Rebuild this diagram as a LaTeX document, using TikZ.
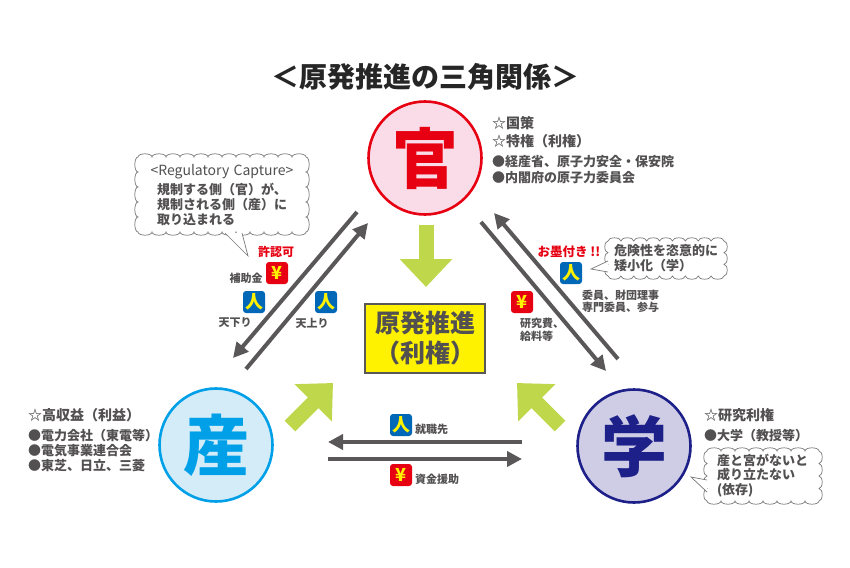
\documentclass[tikz,border=0pt]{standalone}
\usepackage{fontspec}
\setmainfont{Noto Sans CJK JP}
\usetikzlibrary{arrows.meta, positioning, calc}
\definecolor{kanRed}{RGB}{230, 0, 18}
\definecolor{kanFill}{RGB}{250, 220, 232}
\definecolor{sanBlue}{RGB}{0, 160, 233}
\definecolor{sanFill}{RGB}{211, 236, 248}
\definecolor{gakuNavy}{RGB}{29, 32, 136}
\definecolor{gakuFill}{RGB}{207, 205, 230}
\definecolor{flowGray}{RGB}{89, 87, 87}
\definecolor{bodyGray}{RGB}{82, 80, 80}
\definecolor{leafGreen}{RGB}{190, 215, 75}
\definecolor{iconBlue}{RGB}{0, 104, 183}
\newcommand{\px}[1]{\fontsize{#1}{#1}\selectfont}
% x, y, width, height, bumps across, bumps down
\newcommand{\cloudoutline}[6]{%
    \pgfmathsetmacro{\cloudW}{#3/#5/2}
    \pgfmathsetmacro{\cloudH}{#4/#6/2}
    \draw[cloudline] (#1,#2)
        \foreach \k in {1,...,#5} {arc[start angle=180, end angle=360, x radius=\cloudW, y radius=3.2]}
        \foreach \k in {1,...,#6} {arc[start angle=270, end angle=450, x radius=3.2, y radius=\cloudH]}
        \foreach \k in {1,...,#5} {arc[start angle=0, end angle=180, x radius=\cloudW, y radius=3.2]}
        \foreach \k in {1,...,#6} {arc[start angle=90, end angle=270, x radius=3.2, y radius=\cloudH]}
        -- cycle;}

\begin{document}
\begin{tikzpicture}[
        x=1pt, y=-1pt,
        actor/.style={circle, draw, line width=2.6pt, minimum size=113pt, inner sep=0pt,
                      font=\bfseries\px{66}},
        flow/.style={-{Triangle[length=15pt, width=15pt]}, line width=4pt, flowGray},
        push/.style={-{Triangle[length=28pt, width=51pt]}, line width=15pt, leafGreen},
        icon/.style={rounded corners=3pt, minimum size=22pt, inner sep=0pt, text=yellow,
                     font=\bfseries\px{18}},
        note/.style={text=bodyGray, font=\bfseries\px{13}, align=left, anchor=west, inner sep=0pt},
        small/.style={text=bodyGray, font=\bfseries\px{11}, align=left, inner sep=0pt},
        alert/.style={text=kanRed, font=\bfseries\px{12}, inner sep=0pt},
        cloudline/.style={draw=flowGray!80, fill=white, line width=0.7pt},
        bubble/.style={text=bodyGray, font=\bfseries\px{13}, align=left, inner sep=0pt},
        tail/.style={draw=flowGray!80, fill=white, line width=0.7pt}
    ]
        \useasboundingbox (0,0) rectangle (850,567);

        % Title
        \node[text=black!85, font=\bfseries\px{28}, inner sep=0pt] (title) at (425,77)
            {＜原発推進の三角関係＞};

        % Three actors
        \node[actor, draw=kanRed, fill=kanFill, text=kanRed] (kan) at (425,158) {官};
        \node[actor, draw=sanBlue, fill=sanFill, text=sanBlue] (san) at (216,445) {産};
        \node[actor, draw=gakuNavy, fill=gakuFill, text=gakuNavy] (gaku) at (634,446) {学};

        % Goal box
        \node[draw=flowGray, fill=yellow, line width=1.6pt, minimum width=120pt, minimum height=69pt,
              align=center, text=bodyGray, font=\bfseries\px{25}, inner sep=0pt] (goal) at (425,338.5)
            {原発推進\\[5pt]（利権）};

        % Green arrows into the goal
        \coordinate (kanFrom) at (426,225);
        \coordinate (kanTo) at (426,287);
        \coordinate (sanFrom) at (290,426);
        \coordinate (sanTo) at (333,383);
        \coordinate (gakuFrom) at (560,426);
        \coordinate (gakuTo) at (517,383);
        \draw[push] (kanFrom) -- (kanTo);
        \draw[push] (sanFrom) -- (sanTo);
        \draw[push] (gakuFrom) -- (gakuTo);

        % Flows kan - san
        \coordinate (ksA) at (357,212);
        \coordinate (ksB) at (233,358);
        \coordinate (skA) at (246,369);
        \coordinate (skB) at (368,223);
        \draw[flow] (ksA) -- (ksB);
        \draw[flow] (skA) -- (skB);

        % Flows kan - gaku
        \coordinate (kgA) at (481,222);
        \coordinate (kgB) at (606,371);
        \coordinate (gkA) at (618,359);
        \coordinate (gkB) at (494,213);
        \draw[flow] (kgA) -- (kgB);
        \draw[flow] (gkA) -- (gkB);

        % Flows san - gaku
        \coordinate (gsA) at (522,442);
        \coordinate (gsB) at (328,442);
        \coordinate (sgA) at (328,459);
        \coordinate (sgB) at (522,459);
        \draw[flow] (gsA) -- (gsB);
        \draw[flow] (sgA) -- (sgB);

        % Notes beside the actors
        \node[note] (kanNote) at (492,150) {
            \px{14}☆国策\\[4pt]
            \px{14}☆特権（利権）\\[7pt]
            ●経産省、原子力安全・保安院\\[3pt]
            ●内閣府の原子力委員会
        };
        \node[note] (sanNote) at (28,440) {
            \px{14}☆高収益（利益）\\[7pt]
            ●電力会社（東電等）\\[2pt]
            ●電気事業連合会\\[2pt]
            ●東芝、日立、三菱
        };
        \node[note] (gakuNote) at (704,425) {
            \px{14}☆研究利権\\[7pt]
            ●大学（教授等）
        };

        % Speech bubbles
        \cloudoutline{138}{157}{168}{75}{12}{5}
        \node[bubble, minimum width=168pt, minimum height=75pt, text width=168pt] (capture) at (222,195)
            {\makebox[\linewidth][c]{\px{14}\mdseries <Regulatory Capture>}\\[3pt]
             \hspace*{19pt}規制する側（官）が、\\[2pt]
             \hspace*{19pt}規制される側（産）に\\[2pt]
             \hspace*{19pt}取り込まれる};
        \coordinate (captureL) at (225,233);
        \coordinate (captureTip) at (248,256);
        \coordinate (captureR) at (242,233);
        \draw[tail] (captureL) -- (captureTip) -- (captureR);

        \cloudoutline{608}{241}{116}{35}{9}{3}
        \node[bubble, minimum width=116pt, minimum height=35pt, text width=116pt] (risk) at (666,258.5)
            {\hspace*{6pt}危険性を恣意的に\\[2pt]
             \hspace*{6pt}矮小化（学）};
        \coordinate (riskL) at (608,261);
        \coordinate (riskTip) at (591,269);
        \coordinate (riskR) at (608,272);
        \draw[tail] (riskL) -- (riskTip) -- (riskR);

        \cloudoutline{707}{451}{112}{50}{8}{4}
        \node[bubble, minimum width=112pt, minimum height=50pt, text width=112pt] (depend) at (763,476)
            {\hspace*{10pt}産と宮がないと\\[1pt]
             \hspace*{10pt}成り立たない\\[2pt]
             \hspace*{10pt}(依存)};
        \coordinate (dependL) at (707,480);
        \coordinate (dependTip) at (691,477);
        \coordinate (dependR) at (707,492);
        \draw[tail] (dependL) -- (dependTip) -- (dependR);

        % Icons and their labels
        \node[alert] (permit) at (276,252) {許認可};
        \node[icon, fill=kanRed] (yenSubsidy) at (277,273) {¥};
        \node[small] (subsidy) at (246,278) {補助金};
        \node[icon, fill=iconBlue] (jinDown) at (254,302) {人};
        \node[small] (amakudari) at (235,323) {天下り};
        \node[icon, fill=iconBlue] (jinUp) at (326,302) {人};
        \node[small] (amaagari) at (312,323) {天上り};

        \node[alert, font=\bfseries\px{12.5}] (seal) at (569,252) {お墨付き !!};
        \node[icon, fill=iconBlue] (jinBoard) at (571,273) {人};
        \node[small, anchor=west] (board) at (582,301) {委員、財団理事\\[1pt]専門委員、参与};
        \node[icon, fill=kanRed] (yenResearch) at (522,302) {¥};
        \node[small, anchor=west] (research) at (520,329.5) {研究費、\\[2pt]給料等};

        \node[icon, fill=iconBlue] (jinJob) at (401,425) {人};
        \node[small, anchor=west] (job) at (415,429) {就職先};
        \node[icon, fill=kanRed] (yenFund) at (401,475) {¥};
        \node[small, anchor=west] (fund) at (415,479) {資金援助};
    \end{tikzpicture}
\end{document}
